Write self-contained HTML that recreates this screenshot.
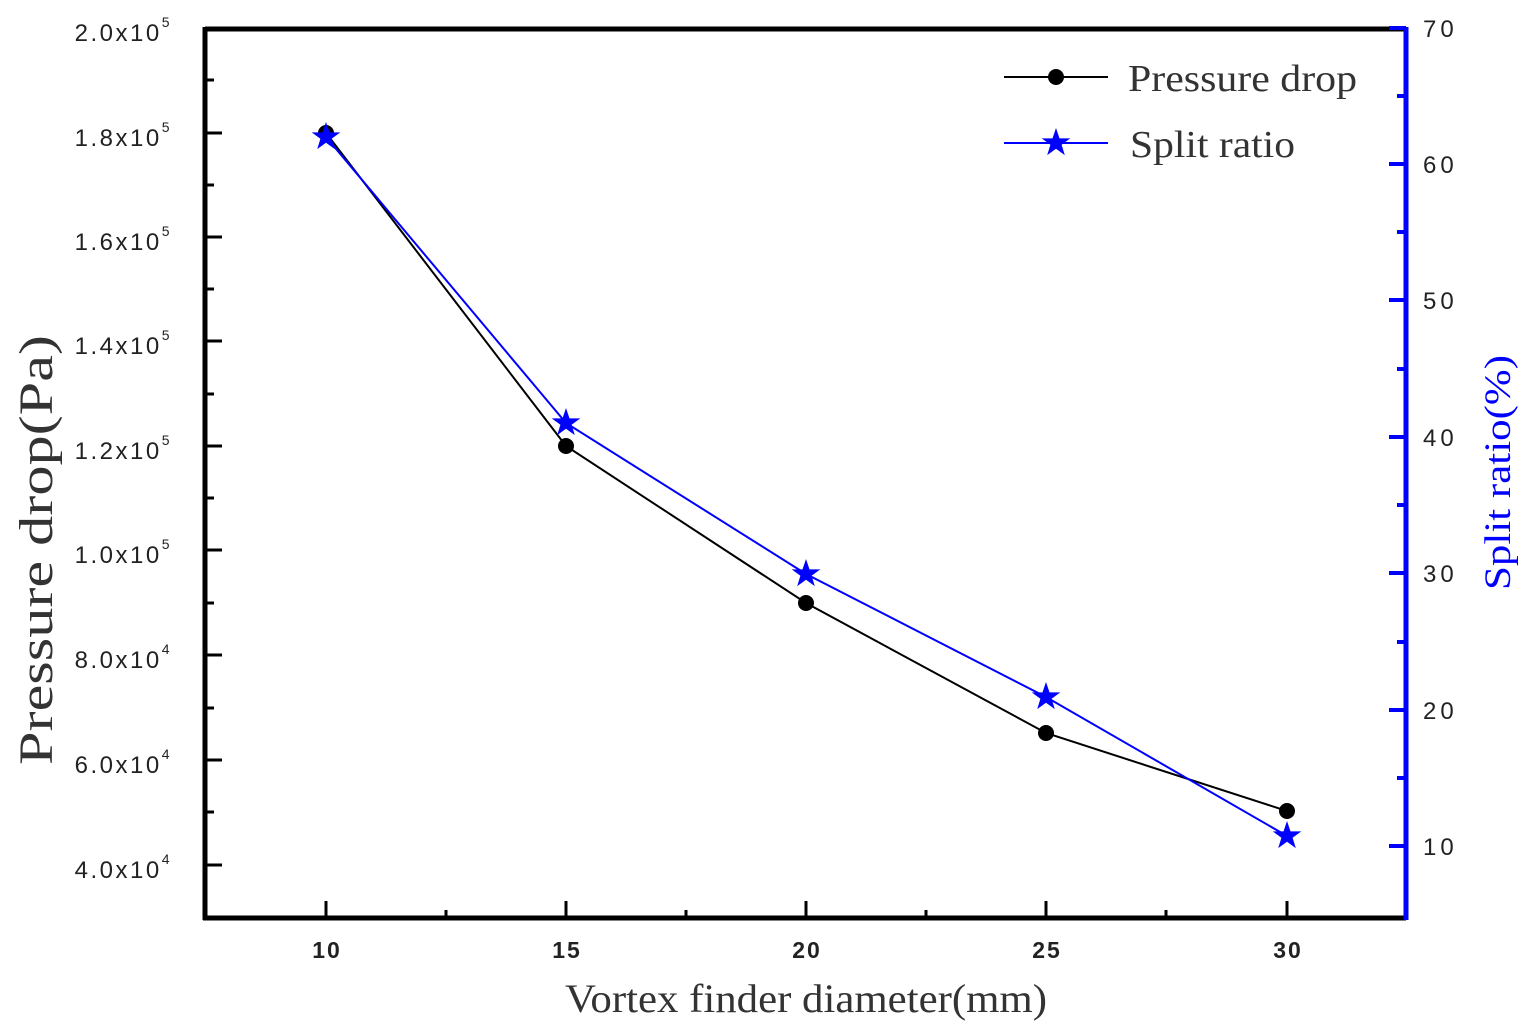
<!DOCTYPE html>
<html><head><style>body{margin:0;background:#fff}svg{display:block}</style></head><body>
<svg width="1531" height="1030" xmlns="http://www.w3.org/2000/svg">
<g stroke="#000" stroke-width="5" fill="none">
<line x1="205" y1="29" x2="1406" y2="29"/>
<line x1="205" y1="27" x2="205" y2="920"/>
<line x1="203" y1="918" x2="1406" y2="918"/>
</g>
<line x1="1406" y1="27" x2="1406" y2="920" stroke="#00f" stroke-width="5"/>
<g stroke="#000" stroke-width="3">
<line x1="205" y1="133" x2="222" y2="133"/><line x1="205" y1="237" x2="222" y2="237"/><line x1="205" y1="341" x2="222" y2="341"/><line x1="205" y1="446" x2="222" y2="446"/><line x1="205" y1="550" x2="222" y2="550"/><line x1="205" y1="655" x2="222" y2="655"/><line x1="205" y1="760" x2="222" y2="760"/><line x1="205" y1="865" x2="222" y2="865"/>
<line x1="205" y1="80" x2="214" y2="80"/><line x1="205" y1="185" x2="214" y2="185"/><line x1="205" y1="289" x2="214" y2="289"/><line x1="205" y1="394" x2="214" y2="394"/><line x1="205" y1="498" x2="214" y2="498"/><line x1="205" y1="603" x2="214" y2="603"/><line x1="205" y1="708" x2="214" y2="708"/><line x1="205" y1="812" x2="214" y2="812"/>
<line x1="326" y1="918" x2="326" y2="901"/><line x1="566" y1="918" x2="566" y2="901"/><line x1="806" y1="918" x2="806" y2="901"/><line x1="1046" y1="918" x2="1046" y2="901"/><line x1="1287" y1="918" x2="1287" y2="901"/>
<line x1="446" y1="918" x2="446" y2="910"/><line x1="686" y1="918" x2="686" y2="910"/><line x1="926" y1="918" x2="926" y2="910"/><line x1="1166" y1="918" x2="1166" y2="910"/>
</g>
<g stroke="#00f" stroke-width="4">
<line x1="1406" y1="28" x2="1389" y2="28"/><line x1="1406" y1="164" x2="1389" y2="164"/><line x1="1406" y1="300" x2="1389" y2="300"/><line x1="1406" y1="437" x2="1389" y2="437"/><line x1="1406" y1="573" x2="1389" y2="573"/><line x1="1406" y1="710" x2="1389" y2="710"/><line x1="1406" y1="846" x2="1389" y2="846"/>
<line x1="1406" y1="96" x2="1397" y2="96"/><line x1="1406" y1="232" x2="1397" y2="232"/><line x1="1406" y1="369" x2="1397" y2="369"/><line x1="1406" y1="505" x2="1397" y2="505"/><line x1="1406" y1="642" x2="1397" y2="642"/><line x1="1406" y1="778" x2="1397" y2="778"/>
</g>
<g font-family="Liberation Sans, sans-serif" font-size="24" fill="#222" text-anchor="end" letter-spacing="2.5">
<text x="172" y="41">2.0x10<tspan font-size="14" dy="-14">5</tspan></text>
<text x="172" y="146">1.8x10<tspan font-size="14" dy="-14">5</tspan></text>
<text x="172" y="250">1.6x10<tspan font-size="14" dy="-14">5</tspan></text>
<text x="172" y="354">1.4x10<tspan font-size="14" dy="-14">5</tspan></text>
<text x="172" y="459">1.2x10<tspan font-size="14" dy="-14">5</tspan></text>
<text x="172" y="563">1.0x10<tspan font-size="14" dy="-14">5</tspan></text>
<text x="172" y="668">8.0x10<tspan font-size="14" dy="-14">4</tspan></text>
<text x="172" y="773">6.0x10<tspan font-size="14" dy="-14">4</tspan></text>
<text x="172" y="878">4.0x10<tspan font-size="14" dy="-14">4</tspan></text>
</g>
<g font-family="Liberation Sans, sans-serif" font-size="23" font-weight="bold" fill="#222" text-anchor="middle" letter-spacing="2">
<text x="327" y="958">10</text><text x="567" y="958">15</text><text x="807" y="958">20</text><text x="1047" y="958">25</text><text x="1288" y="958">30</text>
</g>
<g font-family="Liberation Sans, sans-serif" font-size="24" fill="#222" letter-spacing="4">
<text x="1423" y="37">70</text><text x="1423" y="173">60</text><text x="1423" y="309">50</text><text x="1423" y="446">40</text><text x="1423" y="582">30</text><text x="1423" y="719">20</text><text x="1423" y="855">10</text>
</g>
<text x="565" y="1012" textLength="482" lengthAdjust="spacingAndGlyphs" font-family="Liberation Serif, serif" font-size="40" fill="#333">Vortex finder diameter(mm)</text>
<text transform="translate(52,765) rotate(-90)" textLength="430" lengthAdjust="spacingAndGlyphs" font-family="Liberation Serif, serif" font-size="48" fill="#333">Pressure drop(Pa)</text>
<text transform="translate(1510,590) rotate(-90)" textLength="235" lengthAdjust="spacingAndGlyphs" font-family="Liberation Serif, serif" font-size="37" fill="#00f">Split ratio(%)</text>
<polyline points="326,133 566,446 806,603 1046,733 1287,811" fill="none" stroke="#000" stroke-width="2"/>
<polyline points="326,137 566,423 806,574 1046,697 1287,836" fill="none" stroke="#00f" stroke-width="2"/>
<g fill="#000"><circle cx="326" cy="133" r="8"/><circle cx="566" cy="446" r="8"/><circle cx="806" cy="603" r="8"/><circle cx="1046" cy="733" r="8"/><circle cx="1287" cy="811" r="8"/><circle cx="1056" cy="77" r="8"/></g>
<defs><polygon id="st" points="0,-15 3.5,-4.6 14.3,-4.6 5.6,1.8 8.8,12.1 0,5.8 -8.8,12.1 -5.6,1.8 -14.3,-4.6 -3.5,-4.6" fill="#00f"/></defs>
<use href="#st" x="326" y="137"/><use href="#st" x="566" y="423"/><use href="#st" x="806" y="574"/><use href="#st" x="1046" y="697"/><use href="#st" x="1287" y="836"/><use href="#st" x="1056" y="143"/>
<line x1="1004" y1="77" x2="1108" y2="77" stroke="#000" stroke-width="2"/>
<line x1="1004" y1="143" x2="1108" y2="143" stroke="#00f" stroke-width="2"/>
<g font-family="Liberation Serif, serif" font-size="38" fill="#333">
<text x="1128" y="91" textLength="229" lengthAdjust="spacingAndGlyphs">Pressure drop</text><text x="1130" y="157" textLength="165" lengthAdjust="spacingAndGlyphs">Split ratio</text>
</g>
</svg>
</body></html>
